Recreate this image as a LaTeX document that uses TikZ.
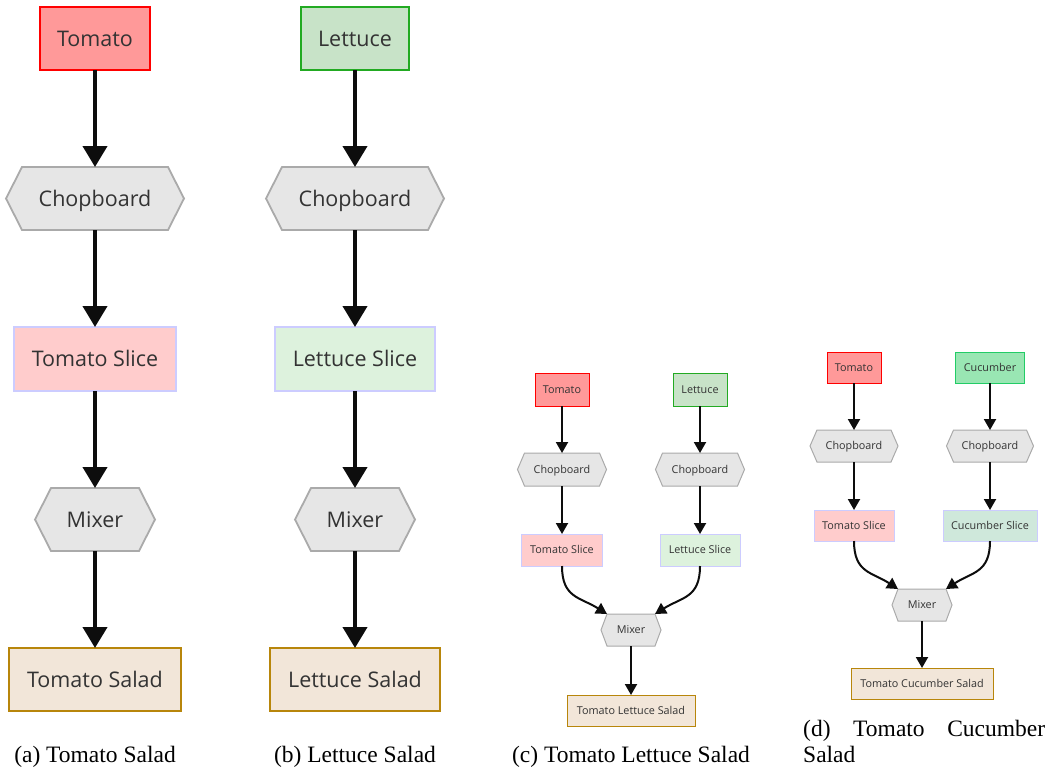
\documentclass[tikz,border=0pt]{standalone}
\usepackage{fontspec}
\setmainfont{Liberation Serif}
\newfontfamily\nodefont{Open Sans}
\usetikzlibrary{arrows.meta}
\definecolor{tomfill}{HTML}{FF9999}
\definecolor{tomdraw}{HTML}{FF0000}
\definecolor{letfill}{HTML}{C8E3C8}
\definecolor{letdraw}{HTML}{22AA22}
\definecolor{cucfill}{HTML}{99E6B3}
\definecolor{cucdraw}{HTML}{22CC66}
\definecolor{tsfill}{HTML}{FFCCCC}
\definecolor{lsfill}{HTML}{DDF2DD}
\definecolor{csfill}{HTML}{CFE8DB}
\definecolor{slicedraw}{HTML}{CCCCFF}
\definecolor{hexfill}{HTML}{E6E6E6}
\definecolor{hexdraw}{HTML}{AAAAAA}
\definecolor{saladfill}{HTML}{F2E6D9}
\definecolor{saladdraw}{HTML}{B8860B}
\definecolor{txt}{HTML}{333333}
\definecolor{arr}{HTML}{0D0D0D}
\newcommand\hexnode[9]{%
  \draw[#8] ({#2-#4/2+#6},{#3-#5/2}) -- ({#2+#4/2-#6},{#3-#5/2}) -- ({#2+#4/2},{#3}) -- ({#2+#4/2-#6},{#3+#5/2}) -- ({#2-#4/2+#6},{#3+#5/2}) -- ({#2-#4/2},{#3}) -- cycle;
  \node[#9, minimum width=#4pt, minimum height=#5pt] (#1) at (#2,#3) {#7};}
\tikzset{
  big/.style={rectangle, line width=1.8pt, font=\nodefont\fontsize{21.5}{24}\selectfont, text=txt, inner sep=0pt, outer sep=0pt, text height=15.3pt, text depth=0pt},
  small/.style={rectangle, line width=1pt, font=\nodefont\fontsize{10.8}{12}\selectfont, text=txt, inner sep=0pt, outer sep=0pt, text height=7.7pt, text depth=0pt},
  bighex/.style={fill=hexfill, draw=hexdraw, line width=1.8pt},
  smallhex/.style={fill=hexfill, draw=hexdraw, line width=1pt},
  tom/.style={fill=tomfill, draw=tomdraw},
  let/.style={fill=letfill, draw=letdraw},
  cuc/.style={fill=cucfill, draw=cucdraw},
  tsl/.style={fill=tsfill, draw=slicedraw},
  lsl/.style={fill=lsfill, draw=slicedraw},
  csl/.style={fill=csfill, draw=slicedraw},
  sal/.style={fill=saladfill, draw=saladdraw},
  bigarrow/.style={draw=arr, line width=4pt, -{Triangle[width=24pt,length=21pt]}},
  smallarrow/.style={draw=arr, line width=2pt, -{Triangle[width=12pt,length=11pt]}},
  captext/.style={font=\fontsize{23.5}{26}\selectfont, inner sep=0pt, anchor=base}
}
\begin{document}
\begin{tikzpicture}[x=1pt, y=-1pt]
\useasboundingbox (0,0) rectangle (1052,772);
% (a)
\node[big, tom, minimum width=110pt, minimum height=63pt] (a1) at (95,38.5) {Tomato};
\hexnode{a2}{95}{198.5}{178}{63}{16}{Chopboard}{bighex}{big}
\node[big, tsl, minimum width=162pt, minimum height=64pt] (a3) at (95,359) {Tomato Slice};
\hexnode{a4}{95}{519.5}{120}{63}{16}{Mixer}{bighex}{big}
\node[big, sal, minimum width=172pt, minimum height=63pt] (a5) at (95,679.5) {Tomato Salad};
\draw[bigarrow] (a1.south) -- (a2.north);
\draw[bigarrow] (a2.south) -- (a3.north);
\draw[bigarrow] (a3.south) -- (a4.north);
\draw[bigarrow] (a4.south) -- (a5.north);
\node[captext] (capa) at (95,762) {(a) Tomato Salad};
% (b)
\node[big, let, minimum width=108pt, minimum height=63pt] (b1) at (355,38.5) {Lettuce};
\hexnode{b2}{355}{198.5}{178}{63}{16}{Chopboard}{bighex}{big}
\node[big, lsl, minimum width=160pt, minimum height=64pt] (b3) at (355,359) {Lettuce Slice};
\hexnode{b4}{355}{519.5}{120}{63}{16}{Mixer}{bighex}{big}
\node[big, sal, minimum width=170pt, minimum height=63pt] (b5) at (355,679.5) {Lettuce Salad};
\draw[bigarrow] (b1.south) -- (b2.north);
\draw[bigarrow] (b2.south) -- (b3.north);
\draw[bigarrow] (b3.south) -- (b4.north);
\draw[bigarrow] (b4.south) -- (b5.north);
\node[captext] (capb) at (355,762) {(b) Lettuce Salad};
% (c)
\node[small, tom, minimum width=54pt, minimum height=33pt] (c1) at (562,389.5) {Tomato};
\node[small, let, minimum width=54pt, minimum height=33pt] (c2) at (700,389.5) {Lettuce};
\hexnode{c3}{562}{469.5}{89}{33}{7}{Chopboard}{smallhex}{small}
\hexnode{c4}{700}{469.5}{89}{33}{7}{Chopboard}{smallhex}{small}
\node[small, tsl, minimum width=81pt, minimum height=32pt] (c5) at (562,550) {Tomato Slice};
\node[small, lsl, minimum width=80pt, minimum height=32pt] (c6) at (700,550) {Lettuce Slice};
\hexnode{c7}{631}{630}{60}{32}{6}{Mixer}{smallhex}{small}
\node[small, sal, minimum width=128pt, minimum height=31pt] (c8) at (631,710.5) {Tomato Lettuce Salad};
\draw[smallarrow] (c1.south) -- (c3.north);
\draw[smallarrow] (c2.south) -- (c4.north);
\draw[smallarrow] (c3.south) -- (c5.north);
\draw[smallarrow] (c4.south) -- (c6.north);
\draw[smallarrow] (c5.south) .. controls (562,598) and (580,597) .. ([xshift=6pt]c7.north west);
\draw[smallarrow] (c6.south) .. controls (700,598) and (682,597) .. ([xshift=-6pt]c7.north east);
\draw[smallarrow] (c7.south) -- (c8.north);
\node[captext] (capc) at (631,762) {(c) Tomato Lettuce Salad};
% (d)
\node[small, tom, minimum width=54pt, minimum height=31pt] (d1) at (854,367.5) {Tomato};
\node[small, cuc, minimum width=69pt, minimum height=31pt] (d2) at (990,367.5) {Cucumber};
\hexnode{d3}{854}{446}{88}{32}{7}{Chopboard}{smallhex}{small}
\hexnode{d4}{990}{446}{87}{32}{7}{Chopboard}{smallhex}{small}
\node[small, tsl, minimum width=80pt, minimum height=31pt] (d5) at (854,525.5) {Tomato Slice};
\node[small, csl, minimum width=94pt, minimum height=31pt] (d6) at (990,525.5) {Cucumber Slice};
\hexnode{d7}{922}{605}{60}{32}{6}{Mixer}{smallhex}{small}
\node[small, sal, minimum width=142pt, minimum height=31pt] (d8) at (922,683.5) {Tomato Cucumber Salad};
\draw[smallarrow] (d1.south) -- (d3.north);
\draw[smallarrow] (d2.south) -- (d4.north);
\draw[smallarrow] (d3.south) -- (d5.north);
\draw[smallarrow] (d4.south) -- (d6.north);
\draw[smallarrow] (d5.south) .. controls (854,573) and (872,572) .. ([xshift=6pt]d7.north west);
\draw[smallarrow] (d6.south) .. controls (990,573) and (972,572) .. ([xshift=-6pt]d7.north east);
\draw[smallarrow] (d7.south) -- (d8.north);
\node[captext, anchor=base west, text width=242pt, align=left] (capd) at (803,736) {(d)\hfill Tomato\hfill Cucumber\\Salad};
\end{tikzpicture}
\end{document}
